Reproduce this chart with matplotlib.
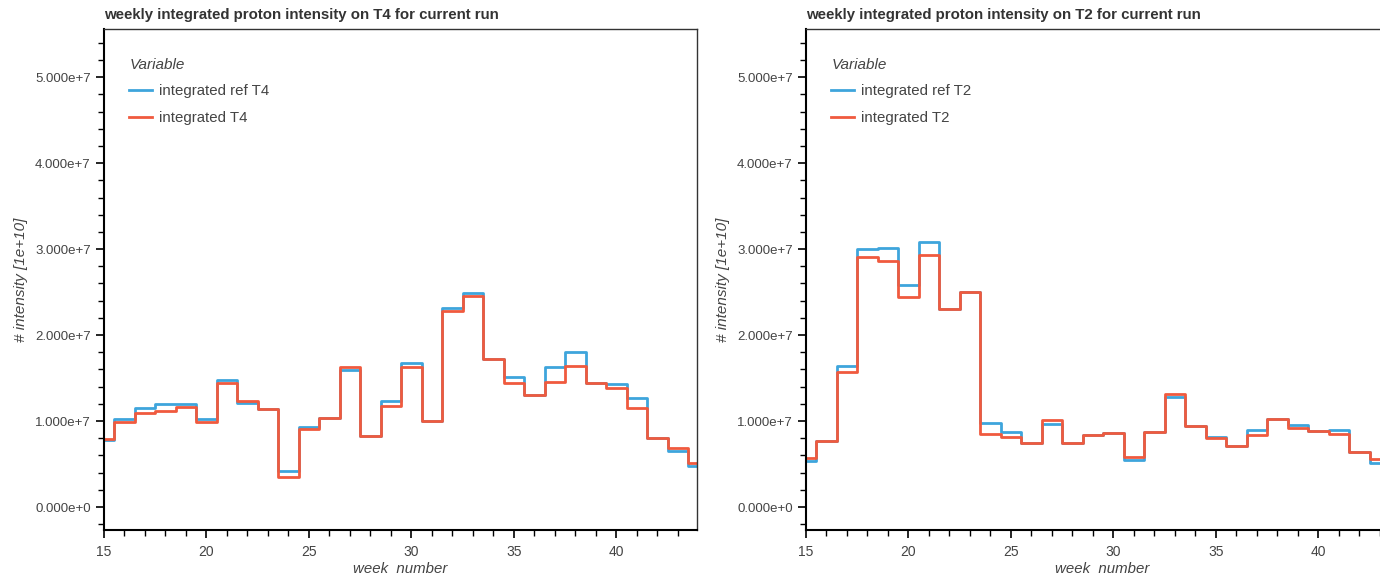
import numpy as np
import matplotlib
matplotlib.use("Agg")
import matplotlib.pyplot as plt
from matplotlib.ticker import FuncFormatter, MultipleLocator, AutoMinorLocator

plt.rcParams['font.family'] = ['Liberation Sans', 'DejaVu Sans']

weeks_t4 = list(range(15, 45))
ref_t4 = [0.775, 1.023, 1.155, 1.198, 1.198, 1.027, 1.477, 1.213, 1.14, 0.415,
          0.934, 1.039, 1.593, 0.83, 1.229, 1.67, 1.003, 2.318, 2.492, 1.721,
          1.508, 1.306, 1.632, 1.806, 1.438, 1.43, 1.271, 0.798, 0.655, 0.477]
int_t4 = [0.795, 0.988, 1.09, 1.12, 1.166, 0.988, 1.438, 1.229, 1.14, 0.353,
          0.91, 1.039, 1.624, 0.83, 1.18, 1.624, 1.003, 2.283, 2.457, 1.721,
          1.442, 1.30, 1.453, 1.64, 1.438, 1.384, 1.147, 0.798, 0.682, 0.508]

weeks_t2 = list(range(15, 44))
ref_t2 = [0.539, 0.771, 1.64, 2.997, 3.016, 2.581, 3.081, 2.298, 2.503, 0.973,
          0.872, 0.748, 0.965, 0.74, 0.837, 0.865, 0.547, 0.876, 1.283, 0.942,
          0.818, 0.709, 0.895, 1.02, 0.95, 0.887, 0.895, 0.64, 0.515]
int_t2 = [0.57, 0.771, 1.574, 2.904, 2.865, 2.446, 2.934, 2.298, 2.503, 0.849,
          0.81, 0.748, 1.012, 0.74, 0.837, 0.865, 0.578, 0.876, 1.314, 0.942,
          0.798, 0.709, 0.833, 1.02, 0.919, 0.887, 0.845, 0.64, 0.554]

blue = '#3ea5dc'
red = '#f05a3e'
grey = '#444444'


def sci_fmt(v, pos):
    m, e = f"{v:.3e}".split('e')
    return f"{m}e{int(e):+d}"


def panel(ax, weeks, ref, val, name):
    ax.step(weeks, np.array(ref) * 1e7, where='mid', color=blue, lw=2.0,
            label=f'integrated ref {name}')
    ax.step(weeks, np.array(val) * 1e7, where='mid', color=red, lw=2.0,
            label=f'integrated {name}')
    ax.set_xlim(15, 43.93)
    ax.set_ylim(-0.267e7, 5.56e7)
    ax.xaxis.set_major_locator(MultipleLocator(5))
    ax.xaxis.set_minor_locator(MultipleLocator(1))
    ax.yaxis.set_major_locator(MultipleLocator(1e7))
    ax.yaxis.set_minor_locator(AutoMinorLocator(5))
    ax.yaxis.set_major_formatter(FuncFormatter(sci_fmt))
    ax.tick_params(which='major', length=6, width=1.2, colors='black',
                   labelcolor=grey, labelsize=9.5)
    ax.tick_params(axis='x', which='major', labelsize=10, pad=5)
    ax.tick_params(which='minor', length=4, width=1, colors='black')
    for s in ('left', 'bottom'):
        ax.spines[s].set_linewidth(1.5)
        ax.spines[s].set_color('black')
    for s in ('top', 'right'):
        ax.spines[s].set_linewidth(1.0)
        ax.spines[s].set_color('#333333')
    ax.set_title(f'weekly integrated proton intensity on {name} for current run',
                 loc='left', fontsize=10.8, fontweight='bold', color='#333333', pad=7)
    ax.set_xlabel('week  number', fontstyle='italic', fontsize=10.8, color=grey, labelpad=2)
    ax.set_ylabel('# intensity [1e+10]', fontstyle='italic', fontsize=11, color=grey, labelpad=5)
    leg = ax.legend(title='Variable', loc='upper left', frameon=False,
                    bbox_to_anchor=(0.02, 0.97), fontsize=10.8, handlelength=1.5,
                    handletextpad=0.5, labelspacing=0.85, alignment='left',
                    labelcolor=grey)
    leg.get_title().set_fontstyle('italic')
    leg.get_title().set_fontsize(11)
    leg.get_title().set_color(grey)


fig = plt.figure(figsize=(13.8, 5.76), dpi=100)
ax1 = fig.add_axes([104 / 1380, 46 / 576, 593 / 1380, 501 / 576])
ax2 = fig.add_axes([806 / 1380, 46 / 576, 593 / 1380, 501 / 576])
panel(ax1, weeks_t4, ref_t4, int_t4, 'T4')
panel(ax2, weeks_t2, ref_t2, int_t2, 'T2')

fig.savefig('out.png', dpi=100)
